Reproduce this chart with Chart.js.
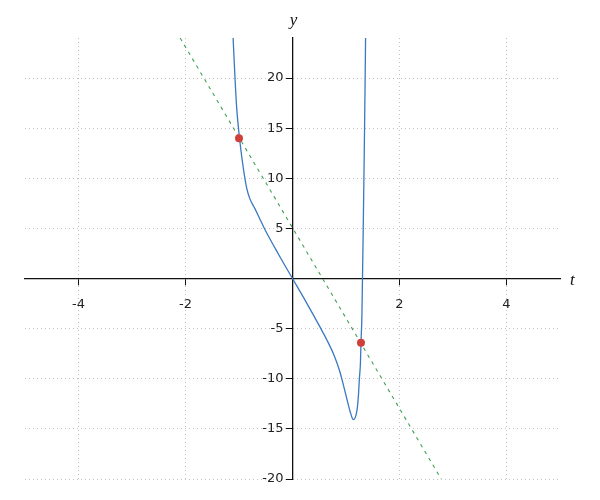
<!DOCTYPE html>
<html>
<head>
<meta charset="utf-8">
<script src="https://cdn.jsdelivr.net/npm/chart.js@4/dist/chart.umd.min.js"></script>
<style>
  html, body { margin: 0; padding: 0; background: #fff; }
  #c { display: block; }
</style>
</head>
<body>
<canvas id="c" width="600" height="500"></canvas>
<script>
// Curve samples (t, y)
const curveT = [-1.11, -1.075, -1.043, -0.99, -0.945, -0.89, -0.855, -0.80, -0.705, -0.615, -0.525, -0.27, 0,
                0.25, 0.5, 0.65, 0.78, 0.88, 0.96, 1.03, 1.09, 1.136, 1.205, 1.232, 1.25, 1.27, 1.28, 1.297, 1.308, 1.322, 1.335, 1.347, 1.358, 1.366];
const curveY = [24, 20, 17, 14, 12, 10, 9, 8, 7, 6, 5, 2.5, 0,
                -2.3, -4.7, -6.2, -7.7, -9.2, -10.8, -12.3, -13.5, -14.08, -13.16, -11.7, -10, -8.4, -6.4, -3.8, 0, 5, 10, 15, 20, 24];
// Dashed line endpoints
const lineT = [-2.1, 2.78];
const lineY = [24, -20];
// Marked intersection points
const pointT = [-1, 1.28];
const pointY = [14, -6.4];
// Axis ticks
const xTickValues = [-4, -2, 0, 2, 4];
const yTickValues = [-20, -15, -10, -5, 0, 5, 10, 15, 20];

const zip = (xs, ys) => xs.map((x, i) => ({ x: x, y: ys[i] }));

const axisText = {
  id: 'axisText',
  beforeDatasetsDraw(chart) {
    const ctx = chart.ctx;
    const xs = chart.scales.x, ys = chart.scales.y;
    const ax = xs.getPixelForValue(0);
    ctx.save();
    ctx.fillStyle = '#222';
    ctx.font = '13px "DejaVu Sans"';
    ctx.textAlign = 'right';
    ctx.textBaseline = 'middle';
    yTickValues.forEach(v => {
      if (v === 0) return;
      ctx.fillText(String(v), ax - 9, ys.getPixelForValue(v));
    });
    ctx.restore();
  },
  afterDraw(chart) {
    const ctx = chart.ctx;
    const xs = chart.scales.x, ys = chart.scales.y;
    ctx.save();
    ctx.fillStyle = '#111';
    ctx.font = 'italic 17px "Liberation Serif"';
    ctx.textAlign = 'center';
    ctx.textBaseline = 'middle';
    ctx.fillText('y', xs.getPixelForValue(0) + 1, chart.chartArea.top - 17);
    ctx.textAlign = 'left';
    ctx.fillText('t', chart.chartArea.right + 10, ys.getPixelForValue(0) + 2);
    ctx.restore();
  }
};

const gridCommon = {
  color: '#c2c2c2',
  lineWidth: 1,
  drawTicks: true,
  tickLength: 6,
  tickColor: '#111',
  tickWidth: 1,
  tickBorderDash: []
};
const borderCommon = { display: true, color: '#111', width: 1.3, dash: [1, 3] };

new Chart(document.getElementById('c'), {
  type: 'scatter',
  data: {
    datasets: [
      {
        data: zip(pointT, pointY),
        showLine: false,
        pointRadius: 4,
        pointBackgroundColor: '#d13f3a',
        pointBorderWidth: 0,
        order: 0
      },
      {
        data: zip(curveT, curveY),
        showLine: true,
        borderColor: '#3a78c0',
        borderWidth: 1.3,
        pointRadius: 0,
        cubicInterpolationMode: 'monotone',
        fill: false,
        order: 1
      },
      {
        data: zip(lineT, lineY),
        showLine: true,
        borderColor: '#3f9f55',
        borderWidth: 1.1,
        borderDash: [3.5, 4.5],
        pointRadius: 0,
        fill: false,
        order: 2
      }
    ]
  },
  options: {
    responsive: false,
    animation: false,
    layout: { padding: { left: 25, right: 40, top: 38, bottom: 21 } },
    plugins: { legend: { display: false }, tooltip: { enabled: false } },
    scales: {
      x: {
        type: 'linear',
        min: -5, max: 5,
        position: { y: 0 },
        afterBuildTicks: s => { s.ticks = xTickValues.map(v => ({ value: v })); },
        grid: gridCommon,
        border: borderCommon,
        ticks: {
          color: '#222',
          font: { family: 'DejaVu Sans', size: 13 },
          padding: 12,
          maxRotation: 0,
          callback: v => (v === 0 ? '' : String(v))
        }
      },
      y: {
        type: 'linear',
        min: -20, max: 24,
        position: { x: 0 },
        afterBuildTicks: s => { s.ticks = yTickValues.map(v => ({ value: v })); },
        grid: gridCommon,
        border: borderCommon,
        ticks: { display: false }
      }
    }
  },
  plugins: [axisText]
});
</script>
</body>
</html>
